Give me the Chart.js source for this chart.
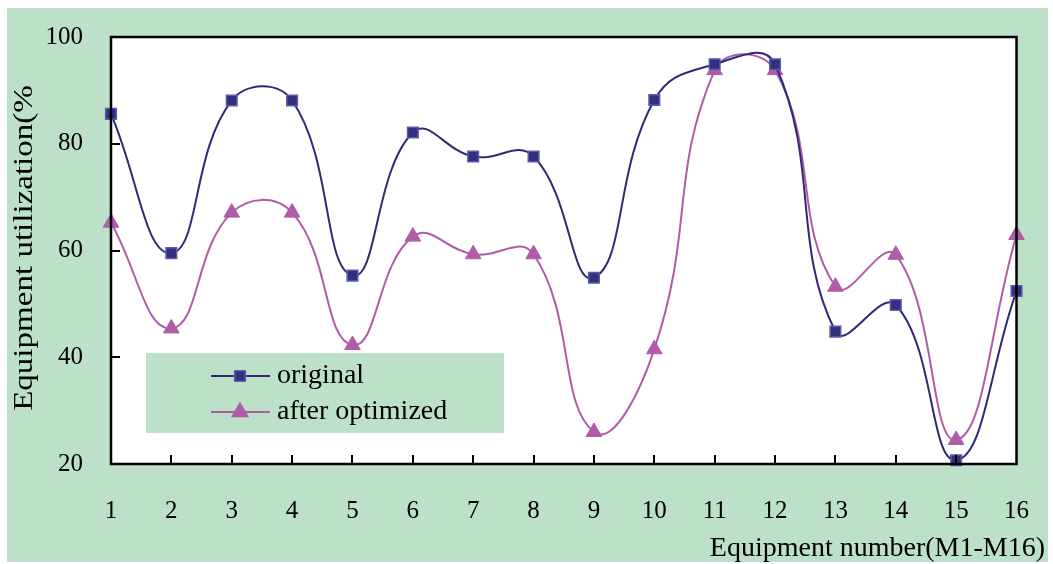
<!DOCTYPE html>
<html>
<head>
<meta charset="utf-8">
<script src="https://cdn.jsdelivr.net/npm/chart.js@4.4.0/dist/chart.umd.min.js"></script>
<style>
  html, body { margin: 0; padding: 0; background: #ffffff; }
  #wrap { width: 1053px; height: 564px; }
</style>
</head>
<body>
<div id="wrap"><canvas id="myChart" width="1053" height="564"></canvas></div>
<script>
// equipment M1..M16, utilization in %
var equipment = ['1','2','3','4','5','6','7','8','9','10','11','12','13','14','15','16'];
var original = [85.6, 59.5, 88.1, 88.1, 55.3, 82.1, 77.6, 77.6, 54.9, 88.2, 94.9, 94.9, 44.8, 49.8, 20.7, 52.4];
var optimized = [65.2, 45.4, 67.1, 67.1, 42.3, 62.6, 59.3, 59.3, 26.0, 41.5, 93.8, 93.8, 53.2, 59.2, 24.5, 62.9];
var yTicks = [20, 40, 60, 80, 100];

var GREEN = '#bde0c8';
var NAVY = '#2e2a78';
var PINK = '#b05ca8';
var SERIF = '"Liberation Serif", "Times New Roman", serif';

// background, frame, inward ticks, titles and legend
var decor = {
    id: 'decor',
    beforeDraw: function (chart) {
        var c = chart.ctx, a = chart.chartArea;
        c.save();
        c.fillStyle = '#ffffff';
        c.fillRect(0, 0, chart.width, chart.height);
        c.fillStyle = GREEN;
        c.fillRect(7, 8, 1041, 554);
        c.fillStyle = '#ffffff';
        c.fillRect(a.left, a.top, a.right - a.left, a.bottom - a.top);
        c.restore();
    },
    afterDraw: function (chart) {
        var c = chart.ctx, a = chart.chartArea;
        var xs = chart.scales.x, ys = chart.scales.y;
        c.save();
        c.strokeStyle = '#000';
        c.lineWidth = 2.5;
        c.strokeRect(a.left, a.top, a.right - a.left, a.bottom - a.top);
        c.lineWidth = 2;
        c.beginPath();
        for (var i = 1; i < equipment.length - 1; i++) {
            var px = Math.round(xs.getPixelForValue(i));
            c.moveTo(px, a.bottom);
            c.lineTo(px, a.bottom - 9);
        }
        for (var j = 1; j < yTicks.length - 1; j++) {
            var py = Math.round(ys.getPixelForValue(yTicks[j]));
            c.moveTo(a.left, py);
            c.lineTo(a.left + 9, py);
        }
        c.stroke();

        // axis titles
        c.fillStyle = '#000';
        c.font = '28px ' + SERIF;
        c.textAlign = 'right';
        c.textBaseline = 'alphabetic';
        c.fillText('Equipment number(M1-M16)', 1045, 556);
        c.translate(32, 248);
        c.rotate(-Math.PI / 2);
        c.scale(1.18, 1);
        c.textAlign = 'center';
        c.fillText('Equipment utilization(%', 0, 0);
        c.restore();

        // legend
        c.save();
        c.fillStyle = GREEN;
        c.fillRect(146, 353, 358, 80);
        var items = [
            { label: 'original', y: 376, color: NAVY, style: 'rect', fill: '#32307c', border: '#5a5ab0', r: 7.5 },
            { label: 'after optimized', y: 412, color: PINK, style: 'triangle', fill: PINK, border: PINK, r: 9 }
        ];
        items.forEach(function (it) {
            c.strokeStyle = it.color;
            c.lineWidth = 2;
            c.beginPath();
            c.moveTo(211, it.y);
            c.lineTo(270, it.y);
            c.stroke();
            c.fillStyle = it.fill;
            c.strokeStyle = it.border;
            c.lineWidth = 1.5;
            Chart.helpers.drawPoint(c, { pointStyle: it.style, radius: it.r, borderWidth: 1.5 }, 240, it.y);
            c.fillStyle = '#000';
            c.font = '28px ' + SERIF;
            c.textAlign = 'left';
            c.textBaseline = 'middle';
            c.fillText(it.label, 277, it.y);
        });
        c.restore();
    }
};

var ctx = document.getElementById('myChart').getContext('2d');
var myChart = new Chart(ctx, {
    type: 'line',
    data: {
        labels: equipment,
        datasets: [{
            label: 'original',
            data: original,
            borderColor: NAVY,
            borderWidth: 2,
            tension: 0.45,
            pointStyle: 'rect',
            pointRadius: 7.5,
            pointBackgroundColor: '#32307c',
            pointBorderColor: '#5a5ab0',
            pointBorderWidth: 1.5,
            clip: false
        }, {
            label: 'after optimized',
            data: optimized,
            borderColor: PINK,
            borderWidth: 2,
            tension: 0.45,
            pointStyle: 'triangle',
            pointRadius: 9,
            pointBackgroundColor: PINK,
            pointBorderColor: PINK,
            pointBorderWidth: 1,
            clip: false
        }]
    },
    options: {
        responsive: false,
        animation: false,
        maintainAspectRatio: false,
        layout: { padding: { left: 0, top: 37, right: 28, bottom: 0 } },
        plugins: {
            legend: { display: false },
            tooltip: { enabled: false }
        },
        scales: {
            x: {
                offset: false,
                grid: { display: false },
                border: { display: false },
                ticks: {
                    color: '#000',
                    font: { family: SERIF, size: 25 },
                    padding: 24,
                    maxRotation: 0,
                    autoSkip: false
                },
                afterFit: function (s) { s.height = 100; }
            },
            y: {
                min: 20,
                max: 100,
                afterBuildTicks: function (s) { s.ticks = yTicks.map(function (v) { return { value: v }; }); },
                grid: { display: false },
                border: { display: false },
                ticks: {
                    color: '#000',
                    font: { family: SERIF, size: 25 },
                    padding: 20
                },
                afterFit: function (s) { s.width = 111; }
            }
        }
    },
    plugins: [decor]
});
</script>
</body>
</html>
